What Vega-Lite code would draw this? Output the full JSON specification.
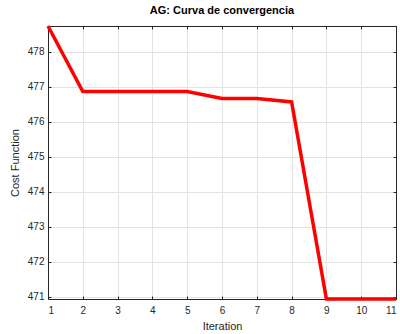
{
  "$schema": "https://vega.github.io/schema/vega-lite/v6.json",
  "autosize": "none",
  "width": 348,
  "height": 273,
  "padding": {"left": 48, "top": 26, "right": 4, "bottom": 35},
  "background": "white",
  "title": {"text": "AG: Curva de convergencia", "font": "Liberation Sans", "fontSize": 11, "fontWeight": "bold", "color": "#000000", "offset": 3},
  "config": {
    "view": {"stroke": "#262626", "strokeWidth": 1},
    "axis": {
      "labelFont": "Liberation Sans", "titleFont": "Liberation Sans",
      "labelFontSize": 10, "titleFontSize": 11, "titleFontWeight": "normal",
      "labelColor": "#262626", "titleColor": "#262626",
      "domainColor": "#262626", "tickColor": "#262626",
      "gridColor": "#e3e3e3", "gridOpacity": 1
    }
  },
  "data": {"values": [
    {"iter": 1, "cost": 478.74},
    {"iter": 2, "cost": 476.87},
    {"iter": 3, "cost": 476.87},
    {"iter": 4, "cost": 476.87},
    {"iter": 5, "cost": 476.87},
    {"iter": 6, "cost": 476.67},
    {"iter": 7, "cost": 476.67},
    {"iter": 8, "cost": 476.57},
    {"iter": 9, "cost": 470.94},
    {"iter": 10, "cost": 470.94},
    {"iter": 11, "cost": 470.94}
  ]},
  "layer": [
    {
      "mark": {"type": "line", "opacity": 0},
      "encoding": {
        "x": {"field": "iter", "type": "quantitative", "scale": {"domain": [1, 11], "nice": false, "zero": false},
              "axis": {"orient": "top", "labels": false, "title": null, "grid": true, "tickSize": -3, "values": [1,2,3,4,5,6,7,8,9,10,11]}},
        "y": {"field": "cost", "type": "quantitative", "scale": {"domain": [470.94, 478.74], "nice": false, "zero": false},
              "axis": {"orient": "right", "labels": false, "title": null, "grid": true, "tickSize": -3, "values": [471,472,473,474,475,476,477,478]}}
      }
    },
    {
      "mark": {"type": "line", "color": "#ff0000", "strokeWidth": 3.5, "strokeJoin": "miter"},
      "encoding": {
        "x": {"field": "iter", "type": "quantitative", "scale": {"domain": [1, 11], "nice": false, "zero": false},
              "axis": {"orient": "bottom", "title": "Iteration", "grid": false, "tickSize": -3, "labelPadding": 9, "titlePadding": 5, "values": [1,2,3,4,5,6,7,8,9,10,11]}},
        "y": {"field": "cost", "type": "quantitative", "scale": {"domain": [470.94, 478.74], "nice": false, "zero": false},
              "axis": {"orient": "left", "title": "Cost Function", "grid": false, "tickSize": -3, "labelPadding": 7, "titlePadding": 7, "values": [471,472,473,474,475,476,477,478]}}
      }
    }
  ],
  "resolve": {"axis": {"x": "independent", "y": "independent"}}
}
